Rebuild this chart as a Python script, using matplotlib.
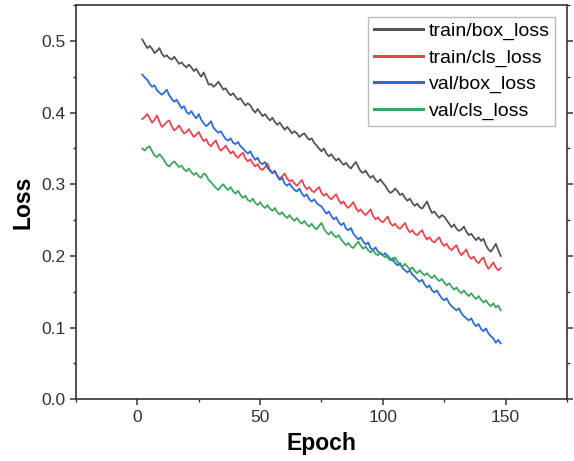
import matplotlib
matplotlib.use("Agg")
import matplotlib.pyplot as plt
from matplotlib.ticker import MultipleLocator, FormatStrFormatter

plt.rcParams['font.family'] = ['Liberation Sans', 'DejaVu Sans']

epochs = list(range(2, 149))

train_box_loss = [
    0.502, 0.496, 0.490, 0.493, 0.489, 0.483, 0.486, 0.490, 0.482, 0.478,
    0.480, 0.476, 0.474, 0.478, 0.473, 0.468, 0.470, 0.466, 0.463, 0.467,
    0.463, 0.458, 0.461, 0.455, 0.450, 0.456, 0.448, 0.439, 0.440, 0.436,
    0.439, 0.443, 0.438, 0.432, 0.434, 0.428, 0.424, 0.427, 0.422, 0.418,
    0.420, 0.415, 0.410, 0.413, 0.410, 0.404, 0.400, 0.405, 0.400, 0.395,
    0.398, 0.393, 0.389, 0.393, 0.387, 0.383, 0.386, 0.381, 0.376, 0.380,
    0.376, 0.371, 0.374, 0.371, 0.366, 0.369, 0.371, 0.366, 0.362, 0.364,
    0.358, 0.354, 0.350, 0.346, 0.350, 0.343, 0.339, 0.342, 0.337, 0.333,
    0.336, 0.331, 0.327, 0.330, 0.325, 0.322, 0.327, 0.331, 0.324, 0.318,
    0.316, 0.319, 0.313, 0.309, 0.312, 0.306, 0.303, 0.307, 0.302, 0.298,
    0.292, 0.288, 0.290, 0.294, 0.290, 0.285, 0.287, 0.281, 0.277, 0.280,
    0.274, 0.270, 0.273, 0.268, 0.266, 0.271, 0.276, 0.267, 0.260, 0.262,
    0.257, 0.253, 0.257, 0.255, 0.250, 0.245, 0.240, 0.244, 0.238, 0.235,
    0.237, 0.241, 0.234, 0.229, 0.231, 0.226, 0.222, 0.226, 0.221, 0.224,
    0.215, 0.209, 0.206, 0.211, 0.217, 0.208, 0.200,
]

train_cls_loss = [
    0.391, 0.394, 0.398, 0.392, 0.386, 0.390, 0.396, 0.387, 0.380, 0.383,
    0.387, 0.389, 0.381, 0.375, 0.378, 0.382, 0.376, 0.371, 0.373, 0.377,
    0.371, 0.366, 0.369, 0.373, 0.366, 0.360, 0.363, 0.356, 0.353, 0.358,
    0.361, 0.352, 0.347, 0.350, 0.354, 0.348, 0.343, 0.346, 0.340, 0.337,
    0.341, 0.344, 0.336, 0.332, 0.335, 0.329, 0.325, 0.328, 0.322, 0.320,
    0.324, 0.329, 0.320, 0.315, 0.318, 0.312, 0.308, 0.311, 0.315, 0.308,
    0.304, 0.306, 0.301, 0.298, 0.302, 0.306, 0.298, 0.293, 0.296, 0.291,
    0.289, 0.293, 0.296, 0.288, 0.284, 0.287, 0.282, 0.279, 0.283, 0.286,
    0.278, 0.273, 0.276, 0.270, 0.267, 0.271, 0.275, 0.267, 0.262, 0.265,
    0.260, 0.257, 0.261, 0.265, 0.256, 0.251, 0.254, 0.249, 0.247, 0.251,
    0.255, 0.246, 0.242, 0.245, 0.240, 0.238, 0.242, 0.246, 0.238, 0.233,
    0.236, 0.231, 0.229, 0.233, 0.236, 0.228, 0.223, 0.226, 0.221, 0.219,
    0.223, 0.226, 0.218, 0.214, 0.217, 0.211, 0.208, 0.212, 0.215, 0.206,
    0.201, 0.205, 0.209, 0.200, 0.196, 0.199, 0.193, 0.190, 0.195, 0.198,
    0.188, 0.182, 0.186, 0.191, 0.184, 0.180, 0.183,
]

val_box_loss = [
    0.453, 0.449, 0.446, 0.440, 0.436, 0.438, 0.431, 0.428, 0.425, 0.428,
    0.432, 0.424, 0.419, 0.415, 0.418, 0.412, 0.406, 0.409, 0.401, 0.398,
    0.402, 0.396, 0.392, 0.398, 0.390, 0.385, 0.381, 0.384, 0.388, 0.379,
    0.375, 0.372, 0.374, 0.368, 0.363, 0.361, 0.364, 0.358, 0.356, 0.359,
    0.353, 0.350, 0.346, 0.343, 0.346, 0.339, 0.334, 0.337, 0.330, 0.328,
    0.331, 0.323, 0.319, 0.316, 0.319, 0.311, 0.306, 0.309, 0.301, 0.298,
    0.301, 0.296, 0.292, 0.290, 0.294, 0.287, 0.283, 0.286, 0.279, 0.276,
    0.279, 0.274, 0.271, 0.269, 0.264, 0.259, 0.262, 0.256, 0.251, 0.254,
    0.247, 0.243, 0.246, 0.238, 0.236, 0.239, 0.231, 0.227, 0.223, 0.226,
    0.220, 0.216, 0.219, 0.211, 0.208, 0.212, 0.206, 0.203, 0.201, 0.204,
    0.198, 0.194, 0.197, 0.190, 0.187, 0.190, 0.183, 0.180, 0.177, 0.180,
    0.174, 0.171, 0.167, 0.164, 0.167, 0.160, 0.156, 0.159, 0.152, 0.149,
    0.152, 0.146, 0.141, 0.138, 0.141, 0.134, 0.130, 0.127, 0.124, 0.127,
    0.120, 0.116, 0.113, 0.110, 0.113, 0.106, 0.102, 0.105, 0.098, 0.095,
    0.099, 0.092, 0.088, 0.085, 0.079, 0.083, 0.078,
]

val_cls_loss = [
    0.350, 0.347, 0.351, 0.353, 0.346, 0.340, 0.338, 0.342, 0.338, 0.333,
    0.327, 0.325, 0.329, 0.332, 0.328, 0.324, 0.326, 0.321, 0.318, 0.322,
    0.317, 0.313, 0.316, 0.311, 0.309, 0.315, 0.313, 0.306, 0.303, 0.299,
    0.295, 0.292, 0.297, 0.300, 0.295, 0.292, 0.296, 0.290, 0.287, 0.291,
    0.285, 0.281, 0.284, 0.278, 0.276, 0.280, 0.274, 0.271, 0.275, 0.270,
    0.267, 0.271, 0.266, 0.263, 0.267, 0.261, 0.258, 0.261, 0.256, 0.253,
    0.257, 0.252, 0.249, 0.253, 0.248, 0.245, 0.249, 0.244, 0.241, 0.245,
    0.240, 0.237, 0.242, 0.246, 0.238, 0.233, 0.230, 0.234, 0.229, 0.226,
    0.229, 0.223, 0.219, 0.215, 0.218, 0.213, 0.211, 0.216, 0.220, 0.214,
    0.210, 0.213, 0.208, 0.205, 0.208, 0.203, 0.201, 0.205, 0.201, 0.198,
    0.201, 0.196, 0.193, 0.198, 0.192, 0.187, 0.185, 0.189, 0.185, 0.181,
    0.184, 0.179, 0.176, 0.180, 0.176, 0.173, 0.176, 0.172, 0.169, 0.173,
    0.168, 0.165, 0.168, 0.163, 0.159, 0.162, 0.157, 0.153, 0.156, 0.151,
    0.148, 0.152, 0.147, 0.144, 0.148, 0.143, 0.140, 0.144, 0.139, 0.135,
    0.138, 0.133, 0.130, 0.134, 0.128, 0.131, 0.124,
]

series_labels = ["train/box_loss", "train/cls_loss", "val/box_loss", "val/cls_loss"]
series_colors = ["#555555", "#e8454c", "#2c6bd6", "#3ea560"]
series_values = [train_box_loss, train_cls_loss, val_box_loss, val_cls_loss]

fig = plt.figure(figsize=(5.74, 4.61), dpi=100)
ax = fig.add_axes([0.1324, 0.1338, 0.8554, 0.8552])

for vals, lab, col in zip(series_values, series_labels, series_colors):
    ax.plot(epochs, vals, color=col, lw=1.3, label=lab)

ax.set_xlim(-25, 175)
ax.set_ylim(0, 0.55)
ax.xaxis.set_major_locator(MultipleLocator(50))
ax.xaxis.set_minor_locator(MultipleLocator(25))
ax.yaxis.set_major_locator(MultipleLocator(0.1))
ax.yaxis.set_minor_locator(MultipleLocator(0.05))
ax.yaxis.set_major_formatter(FormatStrFormatter('%.1f'))

ax.tick_params(which='major', direction='out', length=4, width=1.1, colors='#333333',
               labelsize=12.5, labelcolor='#333333', top=False, right=True)
ax.tick_params(which='minor', direction='out', length=2.5, width=1.0, colors='#333333',
               top=False, right=True)
for s in ax.spines.values():
    s.set_color('#333333')
    s.set_linewidth(1.2)

ax.set_xlabel("Epoch", fontsize=16.5, fontweight='bold', labelpad=5)
ax.set_ylabel("Loss", fontsize=16.5, fontweight='bold', labelpad=5)

leg = ax.legend(loc='upper right', fontsize=14, frameon=True, fancybox=False,
                edgecolor='#aaaaaa', labelspacing=0.45, handlelength=2.5,
                handletextpad=0.3, borderpad=0.3, borderaxespad=0.6)
leg.get_frame().set_linewidth(1.0)
for line in leg.get_lines():
    line.set_linewidth(2.2)

fig.savefig("out.png", dpi=100)
